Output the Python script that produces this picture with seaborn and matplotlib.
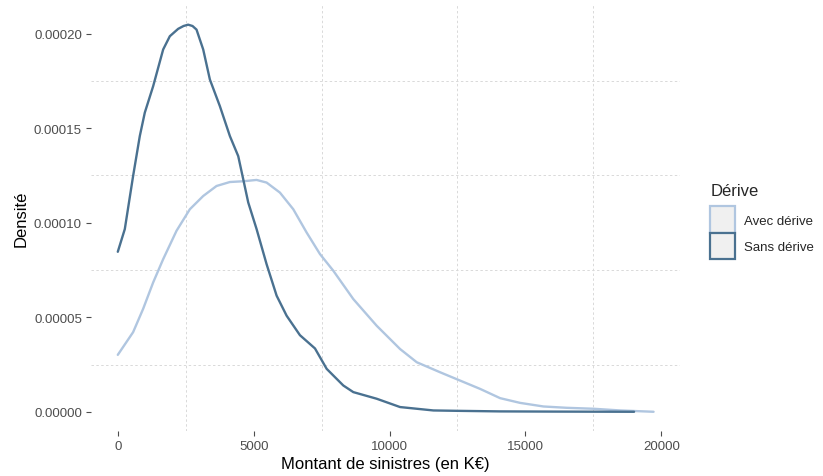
import matplotlib

matplotlib.use("Agg")
import matplotlib.pyplot as plt
import numpy as np
import pandas as pd
import seaborn as sns
from matplotlib.patches import Patch
from matplotlib.ticker import MultipleLocator


# density curves (x in K€, y in units of 1e-5)
SANS_X = [0, 258, 564, 810, 994, 1302, 1670, 1915, 2222, 2420, 2590, 2750, 2897, 3143,
          3389, 3757, 4125, 4432, 4616, 4800, 5108, 5477, 5845, 6213, 6703, 7256, 7687,
          7930, 8299, 8667, 9527, 10387, 11614, 12500, 14070, 16000, 19000]
SANS_Y = [8.46, 9.66, 12.47, 14.58, 15.82, 17.22, 19.16, 19.86, 20.25, 20.40, 20.47, 20.40,
          20.21, 19.16, 17.57, 16.16, 14.58, 13.52, 12.30, 11.07, 9.66, 7.80, 6.14, 5.08,
          4.05, 3.35, 2.27, 1.92, 1.39, 1.04, 0.69, 0.25, 0.07, 0.05, 0.02, 0.01, 0.0]

AVEC_X = [0, 564, 932, 1302, 1670, 2161, 2652, 3143, 3634, 4125, 4616, 5108, 5477, 5967,
          6458, 6949, 7440, 7930, 8667, 9527, 10387, 11001, 11860, 12597, 13334, 14070,
          14807, 15666, 16525, 17508, 18490, 19717]
AVEC_Y = [3.01, 4.21, 5.44, 6.84, 8.07, 9.57, 10.71, 11.41, 11.94, 12.15, 12.19, 12.26,
          12.12, 11.59, 10.71, 9.48, 8.34, 7.46, 5.96, 4.55, 3.32, 2.62, 2.09, 1.65, 1.21,
          0.72, 0.47, 0.28, 0.21, 0.16, 0.07, 0.0]

GROUPS = ["Avec dérive", "Sans dérive"]
COLORS = {"Avec dérive": "#B0C6E0", "Sans dérive": "#4A7190"}


def main():
    sns.set_theme(style="white")
    plt.rcParams["font.family"] = ["Liberation Sans", "DejaVu Sans"]

    df = pd.concat([
        pd.DataFrame({"x": AVEC_X, "y": np.array(AVEC_Y) * 1e-5, "Dérive": GROUPS[0]}),
        pd.DataFrame({"x": SANS_X, "y": np.array(SANS_Y) * 1e-5, "Dérive": GROUPS[1]}),
    ])

    fig = plt.figure(figsize=(8.23, 4.77), dpi=100, facecolor="white")
    ax = fig.add_axes([0.1106, 0.094, 0.7155, 0.893])

    sns.lineplot(data=df, x="x", y="y", hue="Dérive", hue_order=GROUPS, palette=COLORS,
                 sort=False, estimator=None, linewidth=1.7, legend=False, ax=ax)

    ax.set_xlim(-985, 20685)
    ax.set_ylim(-0.00001025, 0.000215)
    ax.xaxis.set_minor_locator(MultipleLocator(2500))
    ax.yaxis.set_minor_locator(MultipleLocator(0.000025))
    ax.set_xticks([0, 5000, 10000, 15000, 20000])
    ax.set_xticklabels(["0", "5000", "10000", "15000", "20000"])
    ax.set_yticks([0, 0.00005, 0.0001, 0.00015, 0.0002])
    ax.set_yticklabels(["0.00000", "0.00005", "0.00010", "0.00015", "0.00020"])

    ax.grid(False, which="major")
    ax.grid(True, which="minor", color="#d9d9d9", linestyle=(0, (2.5, 2.5)), linewidth=0.7)
    for s in ax.spines.values():
        s.set_visible(False)
    ax.tick_params(axis="both", which="major", length=3.5, width=0.8, color="#4d4d4d",
                   labelsize=9.5, labelcolor="#4d4d4d", bottom=True, left=True, pad=3)
    ax.tick_params(axis="both", which="minor", length=0)

    ax.set_xlabel("Montant de sinistres (en K€)", fontsize=12, color="black", labelpad=3)
    ax.set_ylabel("Densité", fontsize=12, color="black", labelpad=4)

    handles = [Patch(facecolor="#f0f0f0", edgecolor=COLORS[g], linewidth=1.6, label=g)
               for g in GROUPS]
    leg = fig.legend(handles=handles, title="Dérive", loc="upper left",
                     bbox_to_anchor=(0.863, 0.614), frameon=False, fontsize=9.5,
                     title_fontsize=12, handlelength=1.85, handleheight=2.7,
                     handletextpad=0.7, labelspacing=0.02, borderaxespad=0,
                     borderpad=0)
    leg._legend_box.align = "left"
    leg._legend_box.sep = 6

    fig.savefig("out.png", dpi=100, facecolor="white")
    plt.close(fig)


if __name__ == "__main__":
    main()
